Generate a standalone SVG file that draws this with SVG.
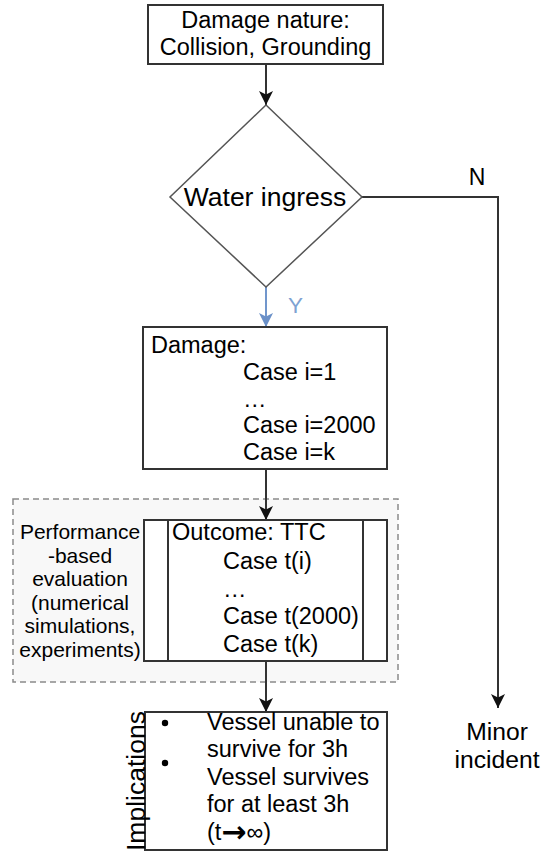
<svg xmlns="http://www.w3.org/2000/svg" width="547" height="853" viewBox="0 0 547 853">
<defs>
<style>
text{font-family:"Liberation Sans",Arial,sans-serif;fill:#000;}
.box{fill:#fff;stroke:#333;stroke-width:2;}
.c{text-anchor:middle;}
.line{fill:none;stroke:#333;stroke-width:2;}
.blue{fill:none;stroke:#7196cc;stroke-width:2;}
</style>
<marker id="ah" viewBox="0 0 10 10" refX="10" refY="5" markerWidth="15" markerHeight="14" markerUnits="userSpaceOnUse" orient="auto">
<path d="M0,0 L10,5 L0,10 L2.5,5 z" fill="#111"/>
</marker>
<marker id="ahb" viewBox="0 0 10 10" refX="10" refY="5" markerWidth="15" markerHeight="14" markerUnits="userSpaceOnUse" orient="auto">
<path d="M0,0 L10,5 L0,10 L2.5,5 z" fill="#6a90c8"/>
</marker>
</defs>
<rect width="547" height="853" fill="#fff"/>

<g id="evaluation-group">
<rect x="13" y="499" width="385" height="183" fill="#f8f8f8" stroke="#8a8a8a" stroke-width="1.5" stroke-dasharray="6,4"/>
<text class="c" x="80" font-size="21"><tspan x="80" y="539">Performance</tspan><tspan x="80" y="563">-based</tspan><tspan x="80" y="586">evaluation</tspan><tspan x="80" y="610">(numerical</tspan><tspan x="80" y="633">simulations,</tspan><tspan x="80" y="657">experiments)</tspan></text>
</g>

<g id="connectors">
<line class="line" x1="266" y1="64" x2="266" y2="105" marker-end="url(#ah)"/>
<line class="blue" x1="266" y1="287" x2="266" y2="327" marker-end="url(#ahb)"/>
<text x="288" y="313" font-size="22.5" style="fill:#7ea2d2">Y</text>
<polyline class="line" points="362,197 498,197 498,708" marker-end="url(#ah)"/>
<text class="c" x="477" y="185" font-size="23">N</text>
<line class="line" x1="266" y1="469" x2="266" y2="520" marker-end="url(#ah)"/>
<line class="line" x1="266" y1="661" x2="266" y2="712" marker-end="url(#ah)"/>
</g>

<g id="damage-nature">
<rect class="box" x="148" y="5" width="235" height="59"/>
<text class="c" x="265.5" y="28" font-size="23.5">Damage nature:</text>
<text class="c" x="265.5" y="55" font-size="23.5">Collision, Grounding</text>
</g>

<g id="water-ingress">
<polygon points="266,105 362,197 266,287 170,197" fill="#fff" stroke="#555" stroke-width="1.5"/>
<text class="c" x="265" y="206" font-size="26.5">Water ingress</text>
</g>

<g id="damage-cases">
<rect class="box" x="143" y="327" width="244" height="142"/>
<text x="151" y="353" font-size="23.5">Damage:</text>
<text x="243" y="380" font-size="23.5">Case i=1</text>
<text x="243" y="407" font-size="23.5">…</text>
<text x="243" y="433" font-size="23.5">Case i=2000</text>
<text x="243" y="460" font-size="23.5">Case i=k</text>
</g>

<g id="outcome">
<rect class="box" x="144" y="520" width="243" height="141"/>
<line class="line" x1="168" y1="520" x2="168" y2="661"/>
<line class="line" x1="363" y1="520" x2="363" y2="661"/>
<text x="172" y="540" font-size="23.5">Outcome: TTC</text>
<text x="223" y="569" font-size="23.5">Case t(i)</text>
<text x="223" y="597" font-size="23.5">…</text>
<text x="223" y="624" font-size="23.5">Case t(2000)</text>
<text x="223" y="652" font-size="23.5">Case t(k)</text>
</g>

<g id="implications">
<rect class="box" x="145" y="712" width="242" height="138"/>
<circle cx="165" cy="723" r="3.2" fill="#000"/>
<circle cx="165" cy="763" r="3.2" fill="#000"/>
<text x="207" y="730" font-size="23.5">Vessel unable to</text>
<text x="207" y="757" font-size="23.5">survive for 3h</text>
<text x="207" y="785" font-size="23.5">Vessel survives</text>
<text x="207" y="812" font-size="23.5">for at least 3h</text>
<text x="207" y="840" font-size="23.5">(t<tspan font-family="DejaVu Sans, sans-serif" font-weight="bold" font-size="30" dy="2">→</tspan><tspan dy="-2">∞)</tspan></text>
<text transform="translate(145,851) rotate(-90)" x="0" y="0" font-size="26.5">Implications</text>
</g>

<g id="minor-incident">
<text class="c" x="497" y="740" font-size="24.7">Minor</text>
<text class="c" x="497" y="768" font-size="24.7">incident</text>
</g>
</svg>
